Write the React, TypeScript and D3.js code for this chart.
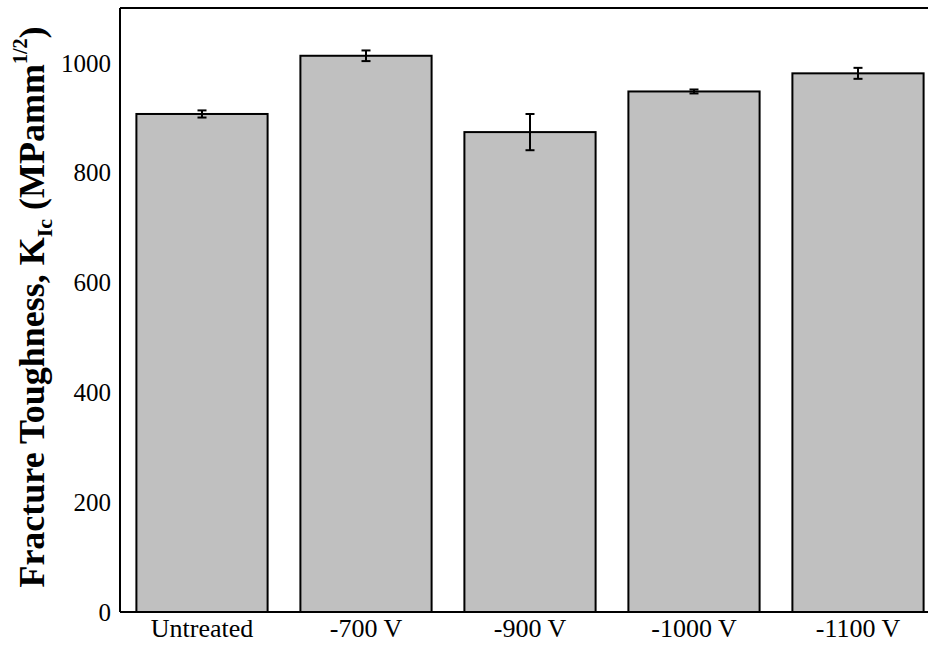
import React from "react";
import * as d3 from "d3";

const categories = ["Untreated", "-700 V", "-900 V", "-1000 V", "-1100 V"];
const toughness = [907, 1013, 874, 948, 981];
const errors = [6.5, 9.7, 33, 3.6, 10];
const yTicks = [0, 200, 400, 600, 800, 1000];

const W = 928;
const H = 648;
const margin = { top: 8, left: 120, bottom: 36 };

export default function App() {
  const x = d3
    .scaleBand<string>()
    .domain(categories)
    .range([margin.left, margin.left + 820])
    .paddingInner(0.2)
    .paddingOuter(0.1);
  const y = d3
    .scaleLinear()
    .domain([0, 1100])
    .range([H - margin.bottom, margin.top]);
  const font = "'Liberation Serif', 'Times New Roman', serif";
  const cap = 4.5;

  return (
    <svg
      width={W}
      height={H}
      style={{ position: "absolute", left: 0, top: 0, background: "#fff" }}
      fontFamily={font}
    >
      {/* frame */}
      <line x1={margin.left} x2={W} y1={y(1100)} y2={y(1100)} stroke="#000" strokeWidth={2} />
      <line x1={margin.left} x2={margin.left} y1={y(1100)} y2={y(0)} stroke="#000" strokeWidth={2} />

      {categories.map((c, i) => {
        const bx = x(c)!;
        const cx = bx + x.bandwidth() / 2;
        return (
          <g key={c}>
            <rect
              x={bx}
              y={y(toughness[i])}
              width={x.bandwidth()}
              height={y(0) - y(toughness[i])}
              fill="#c0c0c0"
              stroke="#000"
              strokeWidth={2}
            />
            <g stroke="#000" strokeWidth={2}>
              <line x1={cx} x2={cx} y1={y(toughness[i] + errors[i])} y2={y(toughness[i] - errors[i])} />
              <line x1={cx - cap} x2={cx + cap} y1={y(toughness[i] + errors[i])} y2={y(toughness[i] + errors[i])} />
              <line x1={cx - cap} x2={cx + cap} y1={y(toughness[i] - errors[i])} y2={y(toughness[i] - errors[i])} />
            </g>
            <text x={cx} y={y(0) + 25} textAnchor="middle" fontSize={26}>
              {c}
            </text>
          </g>
        );
      })}

      <line x1={margin.left} x2={W} y1={y(0)} y2={y(0)} stroke="#000" strokeWidth={2} />

      {yTicks.map((t) => (
        <text key={t} x={margin.left - 9} y={y(t)} dy="0.35em" textAnchor="end" fontSize={25}>
          {t}
        </text>
      ))}

      <text
        transform={`translate(44,307) rotate(-90)`}
        textAnchor="middle"
        fontSize={36}
        fontWeight="bold"
      >
        Fracture Toughness, K
        <tspan fontSize={22} dy={8}>Ic</tspan>
        <tspan dy={-8}> (MPamm</tspan>
        <tspan fontSize={20} dy={-17}>1/2</tspan>
        <tspan dy={17}>)</tspan>
      </text>
    </svg>
  );
}
